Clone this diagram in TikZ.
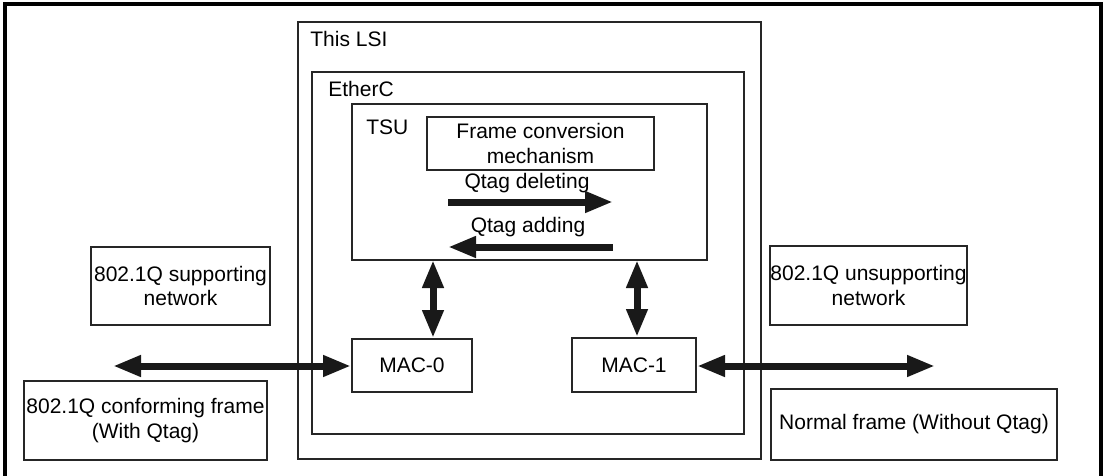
\documentclass[tikz,border=0pt]{standalone}
\usepackage{fontspec}
\setmainfont{Liberation Sans}
\usetikzlibrary{arrows.meta}
\begin{document}
\begin{tikzpicture}[x=0.5pt,y=-0.5pt,
  box/.style={draw=black!85, line width=1pt, inner sep=0pt, align=center, font=\fontsize{10.5}{12.4}\selectfont},
  lbl/.style={inner sep=0pt, font=\fontsize{10.5}{12.4}\selectfont},
  bigarrow/.style={line width=3.5pt, black!90, {Triangle[length=14pt,width=10pt]}-{Triangle[length=14pt,width=10pt]}},
  onearrow/.style={line width=3.5pt, black!90, -{Triangle[length=14pt,width=10pt]}}]
\useasboundingbox (0,0) rectangle (1103,476);
\draw[line width=1.6pt] (5,480) -- (5,4) -- (1101,4) -- (1101,480);
% boxes
\node[box, minimum width=231.5pt, minimum height=218.5pt] (lsi) at (529.5,240.5) {};
\node[box, minimum width=216pt, minimum height=181pt] (ether) at (528,253) {};
\node[box, minimum width=177.5pt, minimum height=78pt] (tsu) at (529.5,182) {};
\node[box, minimum width=113.5pt, minimum height=26.5pt] (fcm) at (540.5,143.5) {Frame conversion\\mechanism};
\node[box, minimum width=60pt, minimum height=26.5pt] (mac0) at (412,365.5) {MAC-0};
\node[box, minimum width=62pt, minimum height=27pt] (mac1) at (634,365) {MAC-1};
\node[box, minimum width=89.5pt, minimum height=39pt] (sup) at (180.5,286) {802.1Q supporting\\network};
\node[box, minimum width=121.5pt, minimum height=39.5pt] (conf) at (145.5,420.5) {802.1Q conforming frame\\(With Qtag)};
\node[box, minimum width=97.5pt, minimum height=39.5pt] (unsup) at (868.5,285.5) {802.1Q unsupporting\\network};
\node[box, minimum width=143pt, minimum height=35.5pt] (norm) at (914,424.5) {Normal frame (Without Qtag)};
% labels
\node[lbl, anchor=west] (lsilbl) at (310,39) {This LSI};
\node[lbl, anchor=west] (etherlbl) at (328,89) {EtherC};
\node[lbl, anchor=west] (tsulbl) at (366,127) {TSU};
\node[lbl] (dellbl) at (527,183) {Qtag deleting};
\node[lbl] (addlbl) at (528,227) {Qtag adding};
% arrow end points
\coordinate (d1) at (448,202);
\coordinate (d2) at (613,202);
\coordinate (a1) at (613,247);
\coordinate (a2) at (448,247);
\coordinate (v1) at (433,260);
\coordinate (v2) at (637,260);
\coordinate (hl) at (113,366);
\coordinate (hr) at (935,366);
% arrows
\draw[onearrow] (d1) -- (d2);
\draw[onearrow] (a1) -- (a2);
\draw[bigarrow] (v1) -- (v1 |- mac0.north);
\draw[bigarrow] (v2) -- (v2 |- mac1.north);
\draw[bigarrow] (hl) -- (hl -| mac0.west);
\draw[bigarrow] (hl -| mac1.east) -- (hr);
\end{tikzpicture}
\end{document}
